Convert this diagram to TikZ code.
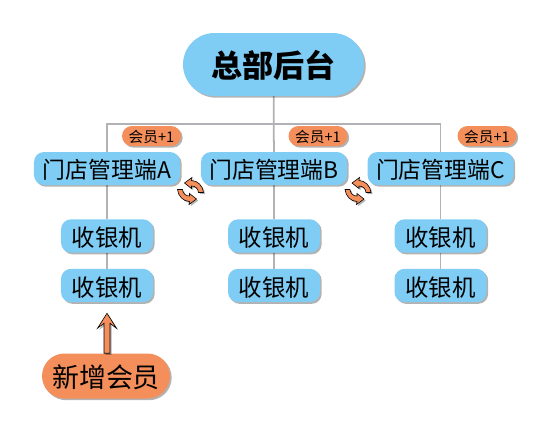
\documentclass[tikz,border=0pt]{standalone}
\usepackage{fontspec}
\setmainfont{Noto Sans CJK SC}
\usetikzlibrary{calc,positioning,shapes.misc,shadows,backgrounds}
\definecolor{sky}{RGB}{127,205,245}
\definecolor{amber}{RGB}{244,143,91}
\definecolor{wire}{RGB}{178,178,182}
\begin{document}
\begin{tikzpicture}[x=0.03cm,y=-0.03cm,
  shade/.style={drop shadow={shadow xshift=0.05cm,shadow yshift=-0.05cm,fill=black,opacity=0.3}},
  hub/.style={rounded rectangle,fill=sky,shade,inner sep=0pt,minimum width=5.43cm,minimum height=1.89cm,text height=23pt,text depth=0pt,font=\fontsize{26.5}{30}\selectfont\bfseries},
  store/.style={rounded corners=0.3cm,fill=sky,shade,inner sep=0pt,minimum width=4.38cm,minimum height=0.99cm,text height=17pt,text depth=0pt,font=\fontsize{19.5}{23}\selectfont},
  cash/.style={rounded corners=0.3cm,fill=sky,shade,inner sep=0pt,minimum width=2.76cm,minimum height=1.0cm,text height=18pt,text depth=0pt,font=\fontsize{20}{23}\selectfont},
  plus/.style={rounded rectangle,fill=amber,shade,inner sep=0pt,minimum width=1.77cm,minimum height=0.6cm,text height=11pt,text depth=0pt,font=\fontsize{12.5}{15}\selectfont},
  newmem/.style={rounded rectangle,fill=amber,shade,inner sep=0pt,minimum width=3.84cm,minimum height=1.35cm,text height=20pt,text depth=0pt,font=\fontsize{23}{26}\selectfont},
  wireline/.style={draw=wire,line width=1.5pt},
  syncicon/.pic={
    \path[fill=amber,draw=black,line width=0.5pt,shade] (-6,-8) -- (1.5,-13.5) -- (1,-10.5) .. controls (7,-10.5) and (12.5,-5) .. (13,1.5) -- (8,1.5) .. controls (7.5,-2.5) and (5,-5) .. (1,-5) -- (1,-2.5) -- cycle;
    \path[fill=amber,draw=black,line width=0.5pt,shade] (6,8) -- (-1.5,13.5) -- (-1,10.5) .. controls (-7,10.5) and (-12.5,5) .. (-13,-1.5) -- (-8,-1.5) .. controls (-7.5,2.5) and (-5,5) .. (-1,5) -- (-1,2.5) -- cycle;
  }]
\useasboundingbox (0,0) rectangle (556,434);

% ---------- top: the hub ----------
\node[hub] (hq) at (273.5,64.5) {总部后台};

% ---------- store row ----------
\node[store] (storeA) at (107,168.5) {门店管理端A};
\node[store] (storeB) at (274,168.5) {门店管理端B};
\node[store] (storeC) at (440.5,168.5) {门店管理端C};
\node[plus] (plusA) at (151.5,136) {会员+1};
\node[plus] (plusB) at (318,136) {会员+1};
\node[plus] (plusC) at (487,136) {会员+1};

% ---------- cash registers ----------
\node[cash] (cashA1) at (107,236) {收银机};
\node[cash] (cashA2) at (107,285.5) {收银机};
\node[cash] (cashB1) at (274,236) {收银机};
\node[cash] (cashB2) at (274,285.5) {收银机};
\node[cash] (cashC1) at (440.5,236) {收银机};
\node[cash] (cashC2) at (440.5,285.5) {收银机};

% ---------- bottom: the new member ----------
\node[newmem] (join) at (106,376) {新增会员};
\draw[fill=amber,draw=black,line width=0.5pt,shade] (cashA2 |- join.north) ++(-3,0) -- ++(0,-30) -- ++(-6.5,5) -- ++(9.5,-15) -- ++(9.5,15) -- ++(-6.5,-5) -- ++(0,30) -- cycle;

% ---------- sync marks ----------
\pic at (190.5,191) {syncicon};
\pic at (358,191) {syncicon};

% ---------- wires, behind the boxes ----------
\coordinate (busA) at (107,124);
\coordinate (busB) at (274,124);
\coordinate (busC) at (440.5,124);
\begin{scope}[on background layer]
\draw[wireline] (hq) -- (storeB);
\draw[wireline] (storeA) -- (busA) -- (busB) -- (busC) -- (storeC);
\draw[wireline] (storeA) -- (cashA1);
\draw[wireline] (cashA1) -- (cashA2);
\draw[wireline] (storeB) -- (cashB1);
\draw[wireline] (cashB1) -- (cashB2);
\draw[wireline] (storeC) -- (cashC1);
\draw[wireline] (cashC1) -- (cashC2);
\end{scope}
\end{tikzpicture}
\end{document}
